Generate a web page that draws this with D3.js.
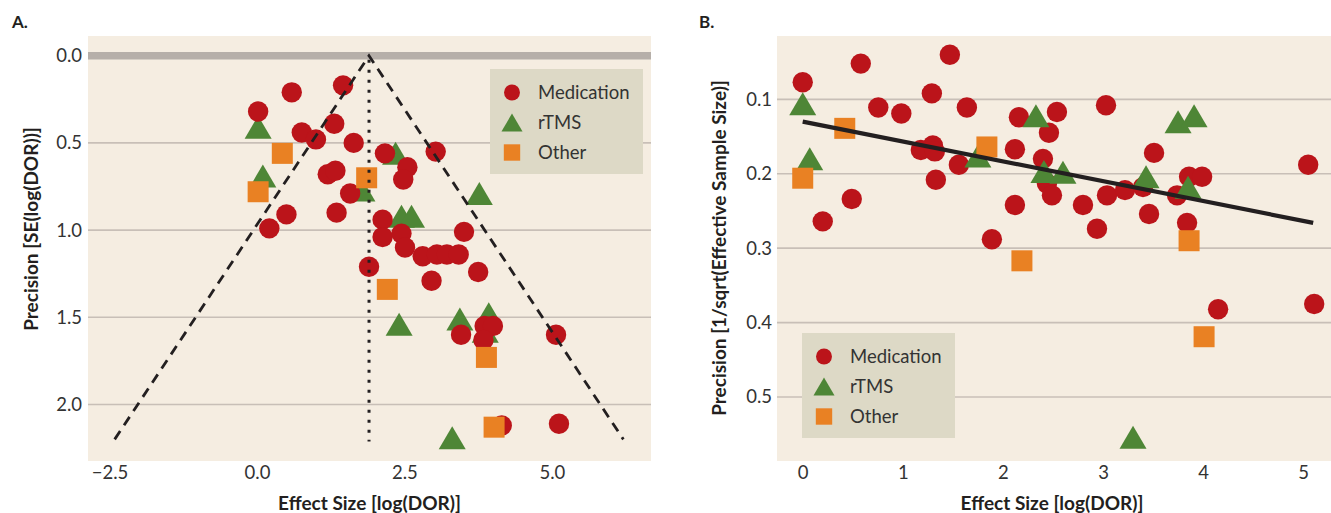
<!DOCTYPE html>
<html>
<head>
<meta charset="utf-8">
<script src="https://cdn.jsdelivr.net/npm/d3@7"></script>
<style>
  html, body { margin: 0; padding: 0; background: #ffffff; }
  svg { display: block; }
  text { font-family: Lato, "Open Sans", sans-serif; }
</style>
</head>
<body>
<svg id="chart" width="1331" height="513"></svg>
<script>
// ---------- Panel A data (funnel plot) ----------
const aMedX = [0.02,0.59,0.76,1.0,1.31,1.46,1.64,1.2,1.33,1.58,1.35,0.5,0.21,2.17,2.55,2.48,3.03,2.13,2.13,2.45,2.51,2.81,3.05,3.22,3.42,3.51,1.9,2.96,3.75,3.46,3.86,4.0,3.84,5.07,4.15,5.12];
const aMedY = [0.32,0.21,0.44,0.48,0.39,0.17,0.50,0.68,0.66,0.79,0.90,0.91,0.99,0.56,0.64,0.71,0.55,0.94,1.04,1.02,1.10,1.15,1.14,1.14,1.14,1.01,1.21,1.29,1.24,1.60,1.55,1.55,1.63,1.60,2.12,2.11];
const aRtmsX = [0.02,0.10,1.78,2.35,2.45,2.62,3.77,2.41,3.44,3.93,3.87,3.31];
const aRtmsY = [0.41,0.69,0.77,0.56,0.92,0.92,0.79,1.54,1.51,1.48,1.58,2.19];
const aOtherX = [0.43,0.02,1.86,2.21,3.89,4.02];
const aOtherY = [0.56,0.78,0.70,1.34,1.73,2.13];
const aXTicks = [-2.5, 0.0, 2.5, 5.0];
const aYTicks = [0.0, 0.5, 1.0, 1.5, 2.0];
const aPooled = 1.9;      // pooled effect (apex of funnel)
const aFunnelSE = 2.2;    // funnel drawn down to this SE

// ---------- Panel B data (precision vs effect) ----------
const bMedX = [0.0,0.58,0.755,0.985,1.29,1.47,1.64,1.18,1.30,1.32,1.56,1.33,0.49,0.20,1.89,2.16,2.12,2.12,2.54,2.46,2.40,2.44,2.49,3.03,2.80,3.04,2.94,3.22,3.40,3.51,3.46,3.74,3.86,3.99,3.84,5.05,4.15,5.11];
const bMedY = [0.077,0.052,0.111,0.119,0.092,0.040,0.111,0.168,0.162,0.170,0.188,0.208,0.234,0.264,0.288,0.124,0.167,0.242,0.117,0.145,0.180,0.213,0.229,0.108,0.242,0.229,0.274,0.222,0.218,0.172,0.254,0.229,0.204,0.204,0.266,0.188,0.382,0.375];
const bRtmsX = [0.0,0.07,1.75,2.33,2.41,2.60,3.43,3.75,3.91,3.85,3.30];
const bRtmsY = [0.106,0.180,0.176,0.122,0.197,0.198,0.204,0.130,0.122,0.218,0.554];
const bOtherX = [0.0,0.42,1.84,2.19,3.86,4.01];
const bOtherY = [0.206,0.139,0.164,0.317,0.290,0.419];
const bXTicks = [0, 1, 2, 3, 4, 5];
const bYTicks = [0.1, 0.2, 0.3, 0.4, 0.5];
const bFitX = [0.0, 5.1];
const bFitY = [0.130, 0.266];

const groups = ["Medication", "rTMS", "Other"];
const colors = { Medication: "#bb141a", rTMS: "#4e8636", Other: "#e98123" };

const svg = d3.select("#chart");
const BG = "#f5ede1";
const GRID = "#c8bfb7";
const TXT = "#333333";
const TICK_FS = 18.5;
const LEG_FS = 18.5;
const XT_FS = 19;
const YT_FS = 19;

function zipPts(xs, ys) { return xs.map((x, i) => ({ x, y: ys[i] })); }

function drawMarker(g, type, cx, cy, big) {
  const s = big ? 1 : 0.78;
  if (type === "Medication") {
    g.append("circle").attr("cx", cx).attr("cy", cy).attr("r", 10.2 * s)
      .attr("fill", colors.Medication);
  } else if (type === "rTMS") {
    const w = 27 * s, h = 23 * s;
    g.append("path")
      .attr("d", `M${cx},${cy - h / 2}L${cx + w / 2},${cy + h / 2}L${cx - w / 2},${cy + h / 2}Z`)
      .attr("fill", colors.rTMS);
  } else {
    const a = 21 * s;
    g.append("rect").attr("x", cx - a / 2).attr("y", cy - a / 2)
      .attr("width", a).attr("height", a).attr("fill", colors.Other);
  }
}

function drawLegend(g, x0, y0, w, h) {
  g.append("rect").attr("x", x0).attr("y", y0).attr("width", w).attr("height", h)
    .attr("fill", "#ddd9c6");
  groups.forEach((name, i) => {
    const cy = y0 + 23.5 + i * 30;
    drawMarker(g, name, x0 + 22, cy, false);
    g.append("text").attr("x", x0 + 48).attr("y", cy).attr("dy", "0.36em")
      .attr("font-size", LEG_FS).attr("fill", TXT).text(name);
  });
}

// ================= Panel A =================
(function () {
  const L = 88, R = 651, T = 36, B = 461;
  const x = d3.scaleLinear().domain([-2.864, 6.68]).range([L, R]);
  const y = d3.scaleLinear().domain([-0.113, 2.324]).range([T, B]);
  const g = svg.append("g");

  g.append("rect").attr("x", L).attr("y", T).attr("width", R - L).attr("height", B - T).attr("fill", BG);

  g.selectAll(".gridA").data(aYTicks.filter(t => t !== 0)).enter().append("line")
    .attr("x1", L).attr("x2", R).attr("y1", d => y(d)).attr("y2", d => y(d))
    .attr("stroke", GRID).attr("stroke-width", 1.6);
  g.append("line").attr("x1", L).attr("x2", R).attr("y1", y(0)).attr("y2", y(0))
    .attr("stroke", "#b6afa9").attr("stroke-width", 7.5);

  const yAx = g.append("g").attr("transform", `translate(${L},0)`)
    .call(d3.axisLeft(y).tickValues(aYTicks).tickFormat(d3.format(".1f")).tickSize(0).tickPadding(6));
  yAx.select(".domain").remove();
  yAx.selectAll("text").attr("font-size", TICK_FS).attr("fill", TXT).attr("font-family", "Lato, sans-serif");

  const xAx = g.append("g").attr("transform", `translate(0,${B})`)
    .call(d3.axisBottom(x).tickValues(aXTicks).tickFormat(d => d3.format(".1f")(d).replace("-", "\u2212")).tickSize(0).tickPadding(5));
  xAx.select(".domain").remove();
  xAx.selectAll("text").attr("font-size", TICK_FS).attr("fill", TXT).attr("font-family", "Lato, sans-serif");

  const pg = g.append("g");
  zipPts(aRtmsX, aRtmsY).forEach(p => drawMarker(pg, "rTMS", x(p.x), y(p.y), true));
  zipPts(aMedX, aMedY).forEach(p => drawMarker(pg, "Medication", x(p.x), y(p.y), true));
  zipPts(aOtherX, aOtherY).forEach(p => drawMarker(pg, "Other", x(p.x), y(p.y), true));

  const fl = [[aPooled - 1.96 * aFunnelSE, aFunnelSE], [aPooled, 0], [aPooled + 1.96 * aFunnelSE, aFunnelSE]];
  g.append("path").attr("d", d3.line().x(d => x(d[0])).y(d => y(d[1]))(fl))
    .attr("fill", "none").attr("stroke", "#231f20").attr("stroke-width", 2.8)
    .attr("stroke-dasharray", "10,7");
  g.append("line").attr("x1", x(aPooled)).attr("x2", x(aPooled))
    .attr("y1", y(0) + 4).attr("y2", y(aFunnelSE) + 2)
    .attr("stroke", "#231f20").attr("stroke-width", 3).attr("stroke-dasharray", "3,7");

  drawLegend(g, 490, 69, 153, 105);

  g.append("text").attr("x", 12).attr("y", 28).attr("font-size", 17).attr("font-weight", 700)
    .attr("fill", "#231f20").text("A.");
  g.append("text").attr("x", 369.5).attr("y", 503).attr("dy", "0.35em").attr("text-anchor", "middle")
    .attr("font-size", XT_FS).attr("font-weight", 700).attr("fill", "#231f20").text("Effect Size [log(DOR)]");
  g.append("text").attr("transform", "translate(31,229) rotate(-90)").attr("dy", "0.35em")
    .attr("text-anchor", "middle").attr("font-size", YT_FS).attr("font-weight", 700).attr("fill", "#231f20")
    .text("Precision [SE(log(DOR))]");
})();

// ================= Panel B =================
(function () {
  const L = 777, R = 1331, T = 36, B = 461;
  const x = d3.scaleLinear().domain([-0.257, 5.278]).range([L, R]);
  const y = d3.scaleLinear().domain([0.0149, 0.586]).range([T, B]);
  const g = svg.append("g");

  g.append("rect").attr("x", L).attr("y", T).attr("width", R - L).attr("height", B - T).attr("fill", BG);

  g.selectAll(".gridB").data(bYTicks).enter().append("line")
    .attr("x1", L).attr("x2", R).attr("y1", d => y(d)).attr("y2", d => y(d))
    .attr("stroke", GRID).attr("stroke-width", 1.6);

  const yAx = g.append("g").attr("transform", `translate(${L},0)`)
    .call(d3.axisLeft(y).tickValues(bYTicks).tickFormat(d3.format(".1f")).tickSize(0).tickPadding(5));
  yAx.select(".domain").remove();
  yAx.selectAll("text").attr("font-size", TICK_FS).attr("fill", TXT).attr("font-family", "Lato, sans-serif");

  const xAx = g.append("g").attr("transform", `translate(0,${B})`)
    .call(d3.axisBottom(x).tickValues(bXTicks).tickFormat(d3.format("d")).tickSize(0).tickPadding(5));
  xAx.select(".domain").remove();
  xAx.selectAll("text").attr("font-size", TICK_FS).attr("fill", TXT).attr("font-family", "Lato, sans-serif");

  const pg = g.append("g");
  zipPts(bMedX, bMedY).forEach(p => drawMarker(pg, "Medication", x(p.x), y(p.y), true));
  zipPts(bRtmsX, bRtmsY).forEach(p => drawMarker(pg, "rTMS", x(p.x), y(p.y), true));
  zipPts(bOtherX, bOtherY).forEach(p => drawMarker(pg, "Other", x(p.x), y(p.y), true));

  g.append("line").attr("x1", x(bFitX[0])).attr("y1", y(bFitY[0]))
    .attr("x2", x(bFitX[1])).attr("y2", y(bFitY[1]))
    .attr("stroke", "#231f20").attr("stroke-width", 4.2);

  drawLegend(g, 802, 333, 153, 105);

  g.append("text").attr("x", 699).attr("y", 28).attr("font-size", 17).attr("font-weight", 700)
    .attr("fill", "#231f20").text("B.");
  g.append("text").attr("x", 1052).attr("y", 503).attr("dy", "0.35em").attr("text-anchor", "middle")
    .attr("font-size", XT_FS).attr("font-weight", 700).attr("fill", "#231f20").text("Effect Size [log(DOR)]");
  g.append("text").attr("transform", "translate(719,248) rotate(-90)").attr("dy", "0.35em")
    .attr("text-anchor", "middle").attr("font-size", YT_FS).attr("font-weight", 700).attr("fill", "#231f20")
    .text("Precision [1/sqrt(Effective Sample Size)]");
})();
</script>
</body>
</html>
